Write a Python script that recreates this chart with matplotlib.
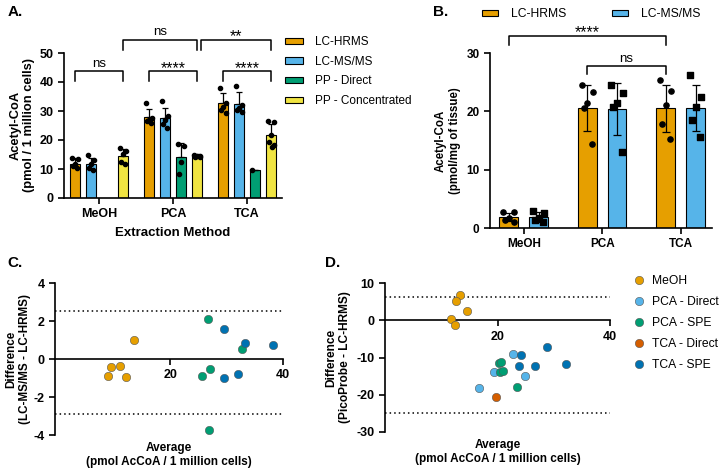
import numpy as np
import matplotlib
matplotlib.use('Agg')
import matplotlib.pyplot as plt
from matplotlib.patches import Patch
from matplotlib.lines import Line2D

plt.rcParams['font.family'] = ['Liberation Sans', 'DejaVu Sans']
plt.rcParams['axes.unicode_minus'] = False

# ---- data ----
cats = ['MeOH', 'PCA', 'TCA']

# panel A: bar means, SD and individual points
a_methods = ['LC-HRMS', 'LC-MS/MS', 'PP - Direct', 'PP - Concentrated']
a_mean = {
    'LC-HRMS': [11.7, 27.9, 32.6],
    'LC-MS/MS': [11.6, 27.6, 32.5],
    'PP - Direct': [np.nan, 14.3, 9.6],
    'PP - Concentrated': [14.5, 14.9, 21.7],
}
a_sd = {
    'LC-HRMS': [2.2, 2.7, 3.5],
    'LC-MS/MS': [2.1, 3.3, 4.2],
    'PP - Direct': [np.nan, 4.8, 0.0],
    'PP - Concentrated': [2.4, 0.4, 3.9],
}
a_pts = {
    'LC-HRMS': [[13.9, 13.4, 11.6, 11.1, 10.2], [32.6, 27.6, 27.0, 26.4, 25.9], [38.0, 32.6, 31.5, 30.3, 29.2]],
    'LC-MS/MS': [[14.8, 13.1, 11.6, 10.2, 9.7], [33.4, 28.4, 27.0, 25.4, 24.0], [38.7, 32.1, 31.2, 30.4, 29.5]],
    'PP - Direct': [[], [18.5, 18.0, 12.3, 8.3], [9.6]],
    'PP - Concentrated': [[17.1, 16.2, 15.2, 12.3, 11.6], [14.9, 14.6, 14.4, 14.2, 14.0], [26.7, 26.1, 21.7, 19.4, 18.3, 17.7]],
}

# panel B
b_methods = ['LC-HRMS', 'LC-MS/MS']
b_mean = {'LC-HRMS': [1.9, 20.6, 20.5], 'LC-MS/MS': [1.9, 20.4, 20.6]}
b_sd = {'LC-HRMS': [0.7, 3.9, 4.1], 'LC-MS/MS': [0.8, 4.4, 4.0]}
b_pts = {
    'LC-HRMS': [[2.8, 2.7, 1.7, 1.4, 1.1], [24.5, 23.3, 21.5, 20.5, 14.4], [25.3, 23.5, 21.1, 17.8, 15.2]],
    'LC-MS/MS': [[3.0, 2.6, 1.7, 1.3, 1.0], [24.5, 23.2, 21.5, 20.7, 13.1], [26.3, 22.5, 20.7, 18.5, 15.6]],
}

# panel C: Bland-Altman LC-MS/MS vs LC-HRMS
c_groups = ['MeOH', 'PCA', 'TCA']
c_avg = {'MeOH': [8.9, 9.5, 11.0, 12.2, 13.6],
         'PCA': [25.6, 26.7, 27.1, 32.7, 26.8],
         'TCA': [29.5, 29.5, 32.0, 33.3, 38.3]}
c_diff = {'MeOH': [-0.9, -0.44, -0.39, -0.93, 1.02],
          'PCA': [-0.88, 2.08, -0.55, 0.55, -3.72],
          'TCA': [1.57, -1.02, -0.81, 0.83, 0.75]}
c_limits = [2.55, -2.9]

# panel D: Bland-Altman PicoProbe vs LC-HRMS
d_groups = ['MeOH', 'PCA - Direct', 'PCA - SPE', 'TCA - Direct', 'TCA - SPE']
d_avg = {'MeOH': [13.3, 12.7, 14.6, 11.7, 12.4],
         'PCA - Direct': [22.7, 19.3, 24.9, 16.7],
         'PCA - SPE': [20.2, 20.6, 20.4, 20.9, 23.4],
         'TCA - Direct': [19.8],
         'TCA - SPE': [24.1, 23.8, 26.6, 28.8, 32.1]}
d_diff = {'MeOH': [6.8, 5.2, 2.4, 0.3, -1.3],
          'PCA - Direct': [-9.0, -13.9, -15.0, -18.3],
          'PCA - SPE': [-11.4, -11.3, -13.8, -13.6, -17.8],
          'TCA - Direct': [-20.5],
          'TCA - SPE': [-9.2, -12.4, -12.4, -7.1, -11.7]}
d_limits = [6.3, -24.8]

# ---- styles ----
col = {'LC-HRMS': '#E69F00', 'LC-MS/MS': '#56B4E9', 'PP - Direct': '#009E73',
       'PP - Concentrated': '#F0E442'}
scol = {'MeOH': '#E69F00', 'PCA': '#009E73', 'TCA': '#0072B2',
        'PCA - Direct': '#56B4E9', 'PCA - SPE': '#009E73',
        'TCA - Direct': '#D55E00', 'TCA - SPE': '#0072B2'}
jit = [-0.3, 0.3, 0.0, -0.2, 0.25, 0.1]


def style_ax(ax, size=8.5):
    for s in ['top', 'right']:
        ax.spines[s].set_visible(False)
    for s in ['left', 'bottom']:
        ax.spines[s].set_linewidth(1.2)
    ax.tick_params(width=1.2, length=4, labelsize=size)
    for t in ax.get_xticklabels() + ax.get_yticklabels():
        t.set_fontweight('bold')


def bracket(ax, x1, x2, y, h, txt):
    ax.plot([x1, x1, x2, x2], [y - h, y, y, y - h], color='black', lw=1.1, clip_on=False)
    if '*' in txt:
        ax.annotate(txt, xy=((x1 + x2) / 2, y), xytext=(0, -1), textcoords='offset points',
                    ha='center', va='baseline', fontsize=11.5, annotation_clip=False)
    else:
        ax.annotate(txt, xy=((x1 + x2) / 2, y), xytext=(0, 3), textcoords='offset points',
                    ha='center', va='baseline', fontsize=9.5, annotation_clip=False)


fig = plt.figure(figsize=(7.2, 4.72), dpi=100)

# ---- A ----
axA = fig.add_axes([64 / 720, 1 - 198 / 472, 218 / 720, 145 / 472])
x = np.arange(len(cats))
wA = 0.135
stepA = 0.216
for i, m in enumerate(a_methods):
    pos = x + (i - 1.5) * stepA
    mean = np.array(a_mean[m])
    sd = np.array(a_sd[m])
    ok = ~np.isnan(mean)
    axA.bar(pos[ok], mean[ok], wA, color=col[m], edgecolor='black', lw=0.8, zorder=2)
    axA.errorbar(pos[ok], mean[ok], yerr=[np.zeros(ok.sum()), sd[ok]], fmt='none',
                 ecolor='black', elinewidth=0.9, capsize=2.2, capthick=0.9, zorder=3)
    for g in range(len(cats)):
        p = a_pts[m][g]
        xs = pos[g] + np.array(jit[:len(p)]) * wA
        axA.scatter(xs, p, s=9, color='black', zorder=4)
axA.set_xlim(-0.47, 2.47)
axA.set_ylim(0, 50)
axA.set_yticks(range(0, 51, 10))
axA.set_xticks(x)
axA.set_xticklabels(cats)
style_ax(axA, 9)
axA.set_ylabel('Acetyl-CoA\n(pmol / 1 million cells)', fontsize=9.3, fontweight='bold', labelpad=3)
axA.set_xlabel('Extraction Method', fontsize=9.5, fontweight='bold', labelpad=5)


def pa(g, i):
    return g + (i - 1.5) * stepA


bracket(axA, pa(0, 0), pa(0, 3), 43.7, 3.5, 'ns')
bracket(axA, pa(0, 3), pa(1, 3), 54.6, 3.5, 'ns')
bracket(axA, pa(1, 0), pa(1, 3), 43.7, 3.5, '****')
bracket(axA, pa(1, 3) + 0.05, pa(2, 3), 54.6, 3.5, '**')
bracket(axA, pa(2, 0), pa(2, 3), 43.7, 3.5, '****')

hA = [Patch(facecolor=col[m], edgecolor='black', lw=0.8) for m in a_methods]
fig.legend(hA, a_methods, loc='upper left', bbox_to_anchor=(285 / 720, 1 - 36 / 472),
           frameon=False, fontsize=8.5, handlelength=1.5, handleheight=0.42,
           labelspacing=0.65, handletextpad=1.0, borderpad=0, borderaxespad=0)

# ---- B ----
axB = fig.add_axes([490 / 720, 1 - 228 / 472, 222 / 720, 175 / 472])
wB = 0.24
stepB = 0.38
mk = {'LC-HRMS': 'o', 'LC-MS/MS': 's'}
for i, m in enumerate(b_methods):
    pos = x + (i - 0.5) * stepB
    axB.bar(pos, b_mean[m], wB, color=col[m], edgecolor='black', lw=0.8, zorder=2)
    axB.errorbar(pos, b_mean[m], yerr=b_sd[m], fmt='none', ecolor='black',
                 elinewidth=0.9, capsize=3, capthick=0.9, zorder=3)
    for g in range(len(cats)):
        p = b_pts[m][g]
        xs = pos[g] + np.array(jit[:len(p)]) * wB
        axB.scatter(xs, p, s=14, marker=mk[m], color='black', zorder=4)
axB.set_xlim(-0.43, 2.4)
axB.set_ylim(0, 30)
axB.set_yticks(range(0, 31, 10))
axB.set_xticks(x)
axB.set_xticklabels(cats)
style_ax(axB, 8.5)
axB.set_ylabel('Acetyl-CoA\n(pmol/mg of tissue)', fontsize=8.3, fontweight='bold')


def pb(g, i):
    return g + (i - 0.5) * stepB


bracket(axB, pb(0, 0), pb(2, 0), 33.0, 1.6, '****')
bracket(axB, pb(1, 0), pb(2, 0), 27.8, 1.4, 'ns')

hB = [Patch(facecolor=col[m], edgecolor='black', lw=0.8) for m in b_methods]
fig.legend(hB, b_methods, loc='center left', bbox_to_anchor=(482 / 720, 1 - 14 / 472),
           ncol=2, frameon=False, fontsize=8.7, handlelength=1.3, handleheight=0.42,
           handletextpad=1.1, columnspacing=3.8, borderpad=0, borderaxespad=0)


def ba_axes(ax, ylim, yticks):
    ax.set_ylim(*ylim)
    ax.set_yticks(yticks)
    ax.set_xticks([20, 40])
    ax.spines['bottom'].set_position(('data', 0))
    style_ax(ax, 9)


# ---- C ----
axC = fig.add_axes([55 / 720, 1 - 435 / 472, 228 / 720, 152 / 472])
for g in c_groups:
    axC.scatter(c_avg[g], c_diff[g], s=36, color=scol[g], edgecolor='#555555', lw=0.4, zorder=3)
for v in c_limits:
    axC.axhline(v, ls=(0, (1, 2)), color='black', lw=1.1)
axC.set_xlim(-0.5, 40)
ba_axes(axC, (-4, 4), [-4, -2, 0, 2, 4])
axC.set_ylabel('Difference\n(LC-MS/MS - LC-HRMS)', fontsize=8.4, fontweight='bold', labelpad=2)
fig.text(169 / 720, 1 - 455 / 472, 'Average\n(pmol AcCoA / 1 million cells)', ha='center',
         va='center', fontsize=8.5, fontweight='bold', linespacing=1.25)

# ---- D ----
axD = fig.add_axes([385 / 720, 1 - 432 / 472, 225 / 720, 149 / 472])
for g in d_groups:
    axD.scatter(d_avg[g], d_diff[g], s=36, color=scol[g], edgecolor='#555555', lw=0.4, zorder=3)
for v in d_limits:
    axD.axhline(v, ls=(0, (1, 2)), color='black', lw=1.1)
axD.set_xlim(0, 40)
ba_axes(axD, (-30, 10), [-30, -20, -10, 0, 10])
axD.set_ylabel('Difference\n(PicoProbe - LC-HRMS)', fontsize=8.6, fontweight='bold', labelpad=4)
fig.text(498 / 720, 1 - 452 / 472, 'Average\n(pmol AcCoA / 1 million cells)', ha='center',
         va='center', fontsize=8.5, fontweight='bold', linespacing=1.25)

hD = [Line2D([], [], ls='none', marker='o', markersize=6, markerfacecolor=scol[g],
             markeredgecolor='#555555', markeredgewidth=0.4) for g in d_groups]
fig.legend(hD, d_groups, loc='upper left', bbox_to_anchor=(634 / 720, 1 - 275 / 472),
           frameon=False, fontsize=8.7, handlelength=0.8, handletextpad=0.7,
           labelspacing=0.75, borderpad=0, borderaxespad=0)

# panel letters
for lbl, px, py in [('A.', 8, 12), ('B.', 433, 12), ('C.', 7, 263), ('D.', 325, 263)]:
    fig.text(px / 720, 1 - py / 472, lbl, fontsize=11, fontweight='bold', va='center')

fig.savefig('out.png', dpi=100)
